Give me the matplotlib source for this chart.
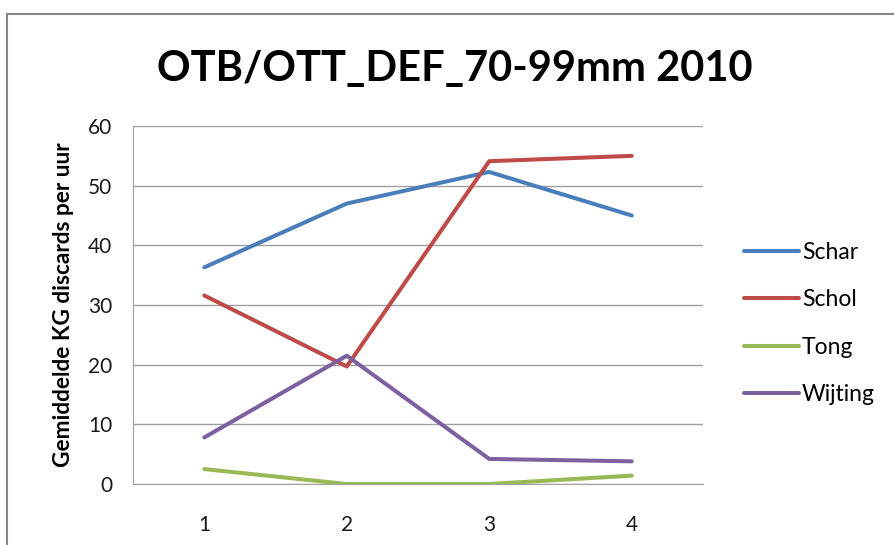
import matplotlib.pyplot as plt
from matplotlib.patches import Rectangle

plt.rcParams['font.family'] = ['Lato', 'DejaVu Sans']

categories = [1, 2, 3, 4]
series_names = ['Schar', 'Schol', 'Tong', 'Wijting']
schar = [36.3, 47.0, 52.3, 45.0]
schol = [31.6, 19.7, 54.1, 55.0]
tong = [2.5, 0.0, 0.0, 1.4]
wijting = [7.8, 21.5, 4.2, 3.8]
colors = ['#4A7EBB', '#BE4B48', '#98B954', '#7D60A0']
yticks = [0, 10, 20, 30, 40, 50, 60]

fig = plt.figure(figsize=(8.95, 5.45), dpi=100)
# outer chart frame (right and bottom edges fall outside the picture)
fig.patches.append(Rectangle((7 / 895, -0.1), 1.2, (545 - 14) / 545 + 0.1,
                             transform=fig.transFigure, fill=False,
                             edgecolor='#888888', linewidth=1.5))

ax = fig.add_axes([133 / 895, 61 / 545, 570 / 895, 358 / 545])
for name, vals, c in zip(series_names, [schar, schol, tong, wijting], colors):
    ax.plot(categories, vals, color=c, linewidth=2.9, label=name,
            solid_capstyle='round', solid_joinstyle='round')

ax.set_xlim(0.5, 4.5)
ax.set_ylim(0, 60)
ax.set_xticks(categories)
ax.set_yticks(yticks)
ax.grid(axis='y', color='#A0A0A0', linewidth=1)
ax.set_axisbelow(True)
for s in ['top', 'right']:
    ax.spines[s].set_visible(False)
for s in ['left', 'bottom']:
    ax.spines[s].set_color('#A0A0A0')
ax.tick_params(length=0, labelsize=15, colors='#1a1a1a')
ax.tick_params(axis='y', pad=15)
ax.tick_params(axis='x', pad=22)
ax.set_ylabel('Gemiddelde KG discards per uur', fontsize=16.3, fontweight='bold',
              labelpad=10)

fig.text(455 / 895, 1 - 69 / 545, 'OTB/OTT_DEF_70-99mm 2010', fontsize=30,
         fontweight='bold', ha='center', va='center')

ax.legend(loc='center left', bbox_to_anchor=(1.036, 0.448), frameon=False,
          fontsize=16.5, handlelength=2.4, handletextpad=0.13, labelspacing=1.16)

plt.savefig('out.png', dpi=100)
